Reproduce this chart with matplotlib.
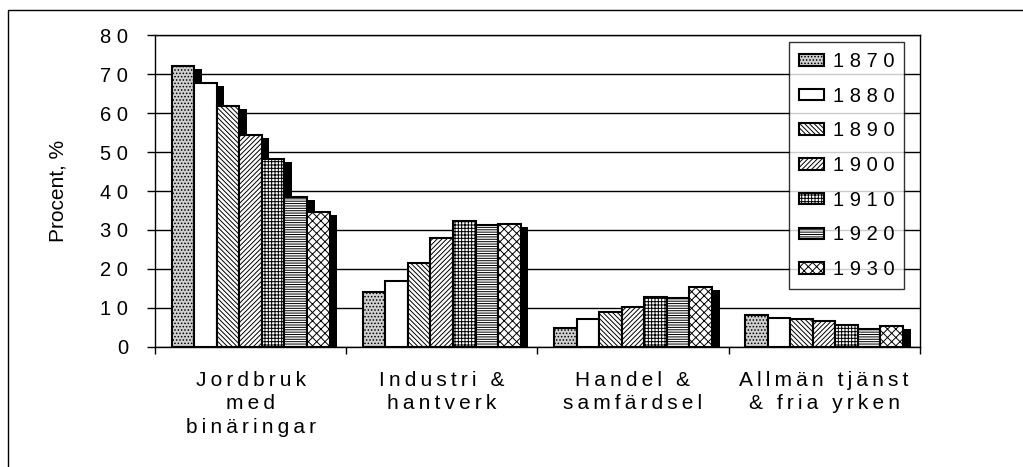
import matplotlib
matplotlib.use("Agg")
import matplotlib.pyplot as plt
import numpy as np
from matplotlib.patches import Rectangle

plt.rcParams['font.family'] = ['Liberation Sans', 'DejaVu Sans']
plt.rcParams['hatch.linewidth'] = 0.7

categories = ["Jordbruk\nmed\nbinäringar", "Industri &\nhantverk",
              "Handel &\nsamfärdsel", "Allmän tjänst\n& fria yrken"]
years = ["1870", "1880", "1890", "1900", "1910", "1920", "1930"]
# percent per year, order: jordbruk, industri, handel, allman
v1870 = [72.1, 14.2, 4.8, 8.1]
v1880 = [67.7, 17.0, 7.1, 7.4]
v1890 = [61.9, 21.6, 8.9, 7.2]
v1900 = [54.4, 28.0, 10.2, 6.7]
v1910 = [48.3, 32.2, 12.9, 5.7]
v1920 = [38.4, 31.2, 12.6, 4.7]
v1930 = [34.6, 31.5, 15.3, 5.3]
values = [v1870, v1880, v1890, v1900, v1910, v1920, v1930]

faces = ['#cfcfcf', 'white', 'white', 'white', 'white', 'white', 'white']
hatches = ['.....', None, '\\' * 7, '/' * 7, '+' * 5, '-' * 7, 'x' * 4]


def spaced(s, sep='\u2009'):
    # old excel-style letter spacing
    return '\n'.join(sep.join(line) for line in s.split('\n'))


fig = plt.figure(figsize=(10.23, 4.67), dpi=100)
ax = fig.add_axes([0.1515, 0.257, 0.7475, 0.668])

x = np.arange(len(categories))
w = 0.118
n = len(years)
dx, dy = 0.04, 0.8

for i, vals in enumerate(values):
    pos = x - w * n / 2 + w * (i + 0.5)
    ax.bar(pos + dx, [v - dy for v in vals], width=w, color='black',
           zorder=2, linewidth=0)
for i, vals in enumerate(values):
    pos = x - w * n / 2 + w * (i + 0.5)
    ax.bar(pos, vals, width=w, facecolor=faces[i], edgecolor='black',
           hatch=hatches[i], linewidth=1.5, zorder=3 + i * 0.01,
           label=spaced(years[i], ' '))

ax.set_xlim(-0.5, 3.5)
ax.set_ylim(0, 80)
ax.set_yticks(range(0, 81, 10))
ax.set_yticklabels([spaced(str(t), ' ') for t in range(0, 81, 10)],
                   fontsize=14.5)
ax.yaxis.grid(True, color='black', linewidth=1)
ax.set_axisbelow(True)
ax.tick_params(axis='y', direction='out', length=6, width=1, pad=13.5)

ax.set_xticks(np.arange(-0.5, 4, 1))
ax.set_xticklabels([])
ax.set_xticks(x, minor=True)
ax.set_xticklabels([spaced(c) for c in categories], minor=True, fontsize=15,
                   linespacing=1.3, va='top')
ax.tick_params(axis='x', which='major', direction='out', length=5, width=1)
ax.tick_params(axis='x', which='minor', length=0, pad=17)
for s in ax.spines.values():
    s.set_linewidth(1)

ax.set_ylabel("Procent, %", fontsize=15, va='center')
ax.yaxis.set_label_coords(-0.127, 0.5)

leg = ax.legend(loc='upper right', bbox_to_anchor=(0.98, 0.978), fontsize=14.5,
                frameon=True, fancybox=False, edgecolor='black',
                labelspacing=0.78, handlelength=1.2, handleheight=0.5,
                handletextpad=0.45, borderpad=0.5, borderaxespad=0)
leg.get_frame().set_linewidth(1)

fig.patches.append(Rectangle((0.008, -0.02), 1.1, 0.998, transform=fig.transFigure,
                             fill=False, edgecolor='black', linewidth=1))

fig.savefig("out.png", dpi=100)
